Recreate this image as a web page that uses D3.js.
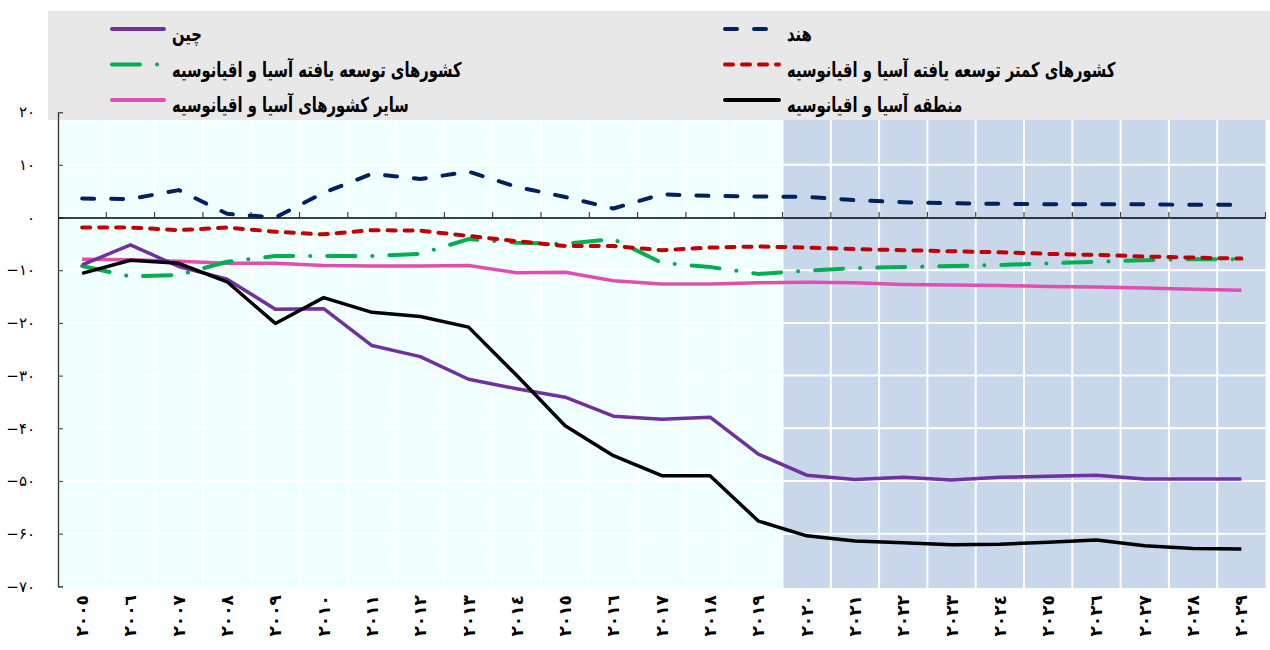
<!DOCTYPE html>
<html>
<head>
<meta charset="utf-8">
<script src="https://cdn.jsdelivr.net/npm/d3@7"></script>
<style>
  html, body { margin: 0; padding: 0; background: #ffffff; }
  svg { display: block; }
</style>
</head>
<body>
<svg id="chart" width="1270" height="650"></svg>
<script>
// ---------- DATA ----------
const years = [2005,2006,2007,2008,2009,2010,2011,2012,2013,2014,2015,2016,2017,2018,2019,2020,2021,2022,2023,2024,2025,2026,2027,2028,2029];
const yearLabels = ["٢٠٠٥","٢٠٠٦","٢٠٠٧","٢٠٠٨","٢٠٠٩","٢٠١٠","٢٠١١","٢٠١٢","٢٠١٣","٢٠١٤","٢٠١٥","٢٠١٦","٢٠١٧","٢٠١٨","٢٠١٩","٢٠٢٠","٢٠٢١","٢٠٢٢","٢٠٢٣","٢٠٢٤","٢٠٢٥","٢٠٢٦","٢٠٢٧","٢٠٢٨","٢٠٢٩"];
const yTicks = [20,10,0,-10,-20,-30,-40,-50,-60,-70];
const yTickLabels = ["۲۰","۱۰","۰","−۱۰","−۲۰","−۳۰","−۴۰","−۵۰","−۶۰","−۷۰"];
const projectionStart = 2020;

const china    = [-9.0,-5.2,-9.3,-11.7,-17.4,-17.3,-24.3,-26.4,-30.7,-32.5,-34.1,-37.7,-38.3,-37.9,-44.9,-48.9,-49.7,-49.3,-49.8,-49.3,-49.1,-48.9,-49.6,-49.6,-49.6];
const india    = [3.6,3.5,5.2,0.7,0.0,4.7,8.3,7.3,8.7,5.8,3.9,1.7,4.4,4.1,4.0,3.9,3.3,2.9,2.7,2.6,2.5,2.5,2.5,2.4,2.4];
const developed= [-9.2,-11.2,-10.9,-8.4,-7.3,-7.3,-7.3,-6.9,-4.1,-4.8,-5.0,-4.1,-8.6,-9.4,-10.7,-10.1,-9.6,-9.4,-9.2,-9.0,-8.7,-8.4,-8.1,-7.9,-7.9];
const ldc      = [-1.9,-1.9,-2.4,-1.9,-2.7,-3.2,-2.4,-2.5,-3.5,-4.5,-5.4,-5.4,-6.2,-5.7,-5.5,-5.7,-6.0,-6.2,-6.4,-6.6,-6.9,-7.1,-7.4,-7.6,-7.8];
const otherAsia= [-7.9,-8.0,-8.3,-8.7,-8.7,-9.1,-9.2,-9.2,-9.1,-10.5,-10.4,-12.0,-12.6,-12.6,-12.4,-12.3,-12.4,-12.7,-12.8,-12.9,-13.1,-13.2,-13.4,-13.6,-13.8];
const region   = [-10.6,-8.1,-8.7,-12.2,-20.1,-15.2,-18.0,-18.8,-20.8,-30.0,-39.5,-45.2,-49.0,-49.0,-57.6,-60.4,-61.4,-61.7,-62.1,-62.0,-61.6,-61.2,-62.3,-62.8,-62.9];

const seriesNames = ["چین","هند","کشورهای توسعه یافته آسیا و اقیانوسیه","کشورهای کمتر توسعه یافته آسیا و اقیانوسیه","سایر کشورهای آسیا و اقیانوسیه","منطقه آسیا و اقیانوسیه"];

// ---------- STYLES ----------
const series = [
  {name: seriesNames[0], values: china,     color: "#7030a0", dash: null,            w: 3.5, lx: 110, row: 0},
  {name: seriesNames[1], values: india,     color: "#002060", dash: "12,17",         w: 4,   lx: 723, row: 0},
  {name: seriesNames[2], values: developed, color: "#00b050", dash: "28,17,0.1,17",  w: 4,   lx: 110, row: 1},
  {name: seriesNames[3], values: ldc,       color: "#c00000", dash: "8,9",           w: 4,   lx: 723, row: 1},
  {name: seriesNames[4], values: otherAsia, color: "#e04fb0", dash: null,            w: 3.5, lx: 110, row: 2},
  {name: seriesNames[5], values: region,    color: "#000000", dash: null,            w: 3.5, lx: 723, row: 2}
];
const drawOrder = [4, 2, 3, 1, 0, 5];

const svg = d3.select("#chart");
const plotLeft = 58, plotRight = 1265.5, plotTop = 120, plotBottom = 588;

const x = d3.scaleBand().domain(years).range([plotLeft, plotRight]).padding(0);
const y = d3.scaleLinear().domain([-70, 20]).range([586.4, 112.1]);

// Plot background
svg.append("rect").attr("x", plotLeft).attr("y", plotTop)
  .attr("width", plotRight - plotLeft).attr("height", plotBottom - plotTop)
  .attr("fill", "#f0ffff");
const projX = x(projectionStart);
svg.append("rect").attr("x", projX).attr("y", plotTop)
  .attr("width", plotRight - projX).attr("height", plotBottom - plotTop)
  .attr("fill", "#c8d7ea");

// Gridlines (white)
const grid = svg.append("g");
years.slice(1).forEach(yr => {
  grid.append("line").attr("x1", x(yr)).attr("x2", x(yr))
    .attr("y1", plotTop).attr("y2", plotBottom)
    .attr("stroke", "#ffffff").attr("stroke-width", 2);
});
yTicks.forEach(t => {
  if (t === 0 || t === 20 || t === -70) return;
  grid.append("line").attr("x1", plotLeft).attr("x2", plotRight)
    .attr("y1", y(t)).attr("y2", y(t))
    .attr("stroke", "#ffffff").attr("stroke-width", 2);
});

// Legend box
svg.append("rect").attr("x", 48).attr("y", 11).attr("width", 1222).attr("height", 109)
  .attr("fill", "#e8e8e8");

// Y axis
const yAxis = d3.axisRight(y).tickValues(yTicks).tickSize(5).tickFormat("");
const yg = svg.append("g").attr("transform", `translate(${plotLeft},0)`).call(yAxis);
yg.select(".domain").attr("stroke", "#333").attr("stroke-width", 1.3);
yg.selectAll(".tick line").attr("stroke", "#555").attr("stroke-width", 1.2);

svg.append("g").selectAll("text").data(yTicks).join("text")
  .attr("x", 35).attr("y", d => y(d)).attr("dy", "0.35em")
  .attr("text-anchor", "end")
  .attr("font-family", "DejaVu Sans, sans-serif").attr("font-size", 15)
  .attr("fill", "#000")
  .text((d, i) => yTickLabels[i]);

// X axis at zero
const xAxis = d3.axisTop(x).tickSize(0).tickFormat("");
const xg = svg.append("g").attr("transform", `translate(0,${y(0)})`).call(xAxis);
xg.select(".domain").attr("stroke", "#000").attr("stroke-width", 1.6);
const tickG = svg.append("g");
years.slice(1).forEach(yr => {
  tickG.append("line").attr("x1", x(yr)).attr("x2", x(yr))
    .attr("y1", y(0) - 5.5).attr("y2", y(0))
    .attr("stroke", "#444").attr("stroke-width", 1.2);
});
tickG.append("line").attr("x1", plotRight).attr("x2", plotRight)
  .attr("y1", y(0) - 5.5).attr("y2", y(0)).attr("stroke", "#444").attr("stroke-width", 1.2);

// X labels (bottom, rotated)
svg.append("g").selectAll("text").data(years).join("text")
  .attr("transform", d => `translate(${x(d) + x.bandwidth() / 2 + 6},595) rotate(-90)`)
  .attr("text-anchor", "end")
  .attr("font-family", "DejaVu Sans, sans-serif").attr("font-size", 17).attr("font-weight", "bold")
  .attr("fill", "#000")
  .text((d, i) => yearLabels[i]);

// Lines
const line = d3.line()
  .x((d, i) => x(years[i]) + x.bandwidth() / 2)
  .y(d => y(d));
const lg = svg.append("g");
drawOrder.forEach(k => {
  const s = series[k];
  lg.append("path").datum(s.values)
    .attr("d", line)
    .attr("fill", "none")
    .attr("stroke", s.color)
    .attr("stroke-width", s.w)
    .attr("stroke-linecap", s.dash ? "round" : "butt")
    .attr("stroke-linejoin", "round")
    .attr("stroke-dasharray", s.dash);
});

// Legend
const rowY = [29, 64.5, 100];
const leg = svg.append("g");
series.forEach(s => {
  const sy = rowY[s.row];
  const sw = s.lx === 110 ? 56 : 58;
  leg.append("line").attr("x1", s.lx + 2).attr("x2", s.lx + sw - 2)
    .attr("y1", sy).attr("y2", sy)
    .attr("stroke", s.color).attr("stroke-width", 4)
    .attr("stroke-linecap", "round")
    .attr("stroke-dasharray", s.dash);
  leg.append("text")
    .attr("transform", `translate(${s.lx + sw + 6},${sy + 12}) scale(0.72,1)`)
    .attr("text-anchor", "start")
    .attr("font-family", "DejaVu Sans, sans-serif").attr("font-size", 20.5).attr("font-weight", "bold")
    .attr("fill", "#000")
    .text(s.name);
});
</script>
</body>
</html>
